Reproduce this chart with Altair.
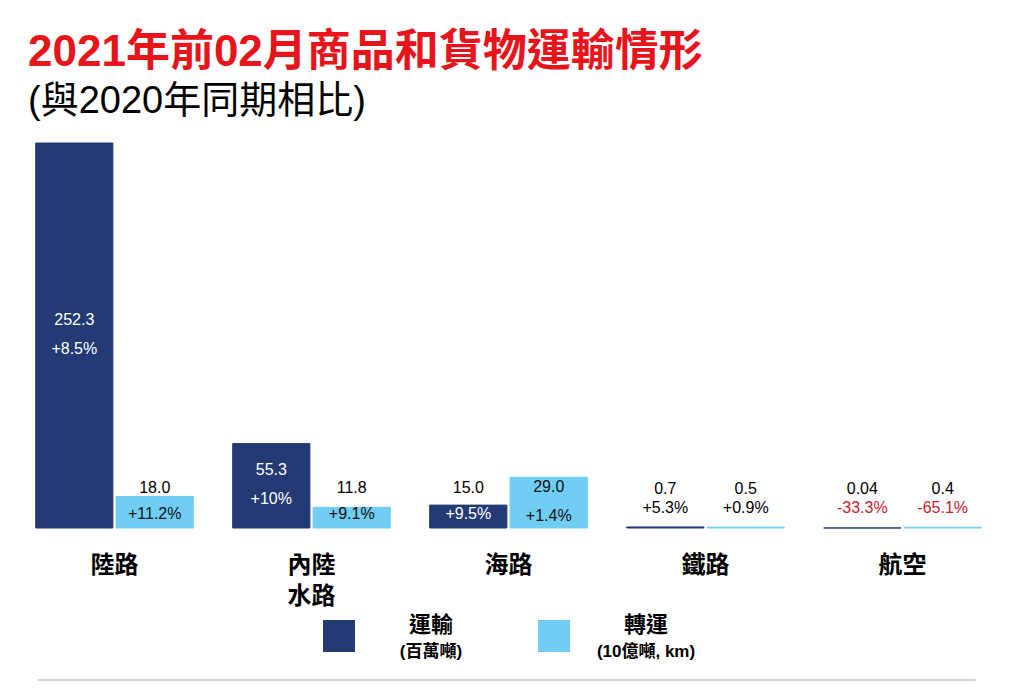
import altair as alt
import pandas as pd

# ---- data ----
categories = ["陸路", "內陸水路", "海路", "鐵路", "航空"]
series_names = ["運輸", "轉運"]
series_units = ["(百萬噸)", "(10億噸, km)"]

transport_values = [252.3, 55.3, 15.0, 0.7, 0.04]
transport_labels = ["252.3", "55.3", "15.0", "0.7", "0.04"]
transport_change = ["+8.5%", "+10%", "+9.5%", "+5.3%", "-33.3%"]

transfer_values = [18.0, 11.8, 29.0, 0.5, 0.4]
transfer_labels = ["18.0", "11.8", "29.0", "0.5", "0.4"]
transfer_change = ["+11.2%", "+9.1%", "+1.4%", "+0.9%", "-65.1%"]

# ---- styling ----
NAVY = "#233a75"
SKY = "#70cdf3"
RED = "#c8202b"
TITLE_RED = "#e8141b"
NUM_FONT = "Liberation Sans, Arial, Noto Sans CJK TC, sans-serif"
CJK_FONT = "Liberation Sans, Noto Sans CJK TC, sans-serif"
TITLE_FONT = "Liberation Sans Narrow, Liberation Sans, Noto Sans CJK TC, sans-serif"
W, H = 985, 385

xscale = alt.Scale(domain=categories, paddingInner=0.2, paddingOuter=0.1)
xoff_scale = alt.Scale(domain=series_names, paddingInner=0.04)

x_axis = alt.Axis(
    title=None, domain=False, ticks=False, labelAngle=0,
    labelFontSize=24, labelFontWeight="bold", labelColor="black",
    labelFont=CJK_FONT, labelPadding=25, labelLineHeight=31,
    labelBaseline="top",
    labelExpr="datum.label == '內陸水路' ? ['內陸', '水路'] : datum.label",
)


def series_layer(name, values, labels, changes, color, ymax, inside_text):
    df = pd.DataFrame({"cat": categories, "s": name, "v": values,
                       "lab": labels, "chg": changes})
    base = alt.Chart(df).transform_calculate(
        px=f"datum.v / {ymax} * {H}",
        mid="datum.v / 2",
        neg="indexof(datum.chg, '-') == 0",
    ).transform_calculate(
        kind="datum.px > 45 ? 'mid' : (datum.px > 10 ? 'small' : 'tiny')"
    )
    yscale = alt.Scale(domain=[0, ymax])
    x = alt.X("cat:N", sort=categories, scale=xscale, axis=x_axis)
    xo = alt.XOffset("s:N", scale=xoff_scale)
    txt = dict(font=NUM_FONT, fontSize=16)

    bars = base.mark_bar(color=color, stroke=color, strokeWidth=1).encode(
        x=x, xOffset=xo, y=alt.Y("v:Q", scale=yscale, axis=None))

    mid = base.transform_filter("datum.kind == 'mid'")
    mid_val = mid.mark_text(dy=-16, color=inside_text, **txt).encode(
        x=x, xOffset=xo, y=alt.Y("mid:Q", scale=yscale, axis=None), text="lab:N")
    mid_chg = mid.mark_text(dy=13, color=inside_text, **txt).encode(
        x=x, xOffset=xo, y=alt.Y("mid:Q", scale=yscale, axis=None), text="chg:N")

    small = base.transform_filter("datum.kind == 'small'")
    small_val = small.mark_text(dy=-40, color="black", **txt).encode(
        x=x, xOffset=xo, y=alt.Y(datum=0, scale=yscale, axis=None), text="lab:N")
    small_chg = small.mark_text(dy=-14, color=inside_text, **txt).encode(
        x=x, xOffset=xo, y=alt.Y(datum=0, scale=yscale, axis=None), text="chg:N")

    tiny = base.transform_filter("datum.kind == 'tiny'")
    tiny_val = tiny.mark_text(dy=-39, color="black", **txt).encode(
        x=x, xOffset=xo, y=alt.Y(datum=0, scale=yscale, axis=None), text="lab:N")
    tiny_chg = tiny.mark_text(dy=-20, **txt).encode(
        x=x, xOffset=xo, y=alt.Y(datum=0, scale=yscale, axis=None), text="chg:N",
        color=alt.condition("datum.neg", alt.value(RED), alt.value("black")))

    return alt.layer(bars, mid_val, mid_chg, small_val, small_chg, tiny_val, tiny_chg)


layer_a = series_layer(series_names[0], transport_values, transport_labels,
                       transport_change, NAVY, 252.3, "white")
layer_b = series_layer(series_names[1], transfer_values, transfer_labels,
                       transfer_change, SKY, 220, "#111111")

main = alt.layer(layer_a, layer_b).resolve_scale(y="independent").properties(
    width=W, height=H)

# ---- custom legend ----
LW = 430
leg_df = pd.DataFrame({"s": series_names, "u": series_units, "c": [NAVY, SKY]})
lx = alt.X("s:N", sort=series_names,
           scale=alt.Scale(type="point", domain=series_names, padding=0.5),
           axis=None)
leg_base = alt.Chart(leg_df)
sq = leg_base.mark_square(size=1024, opacity=1, xOffset=-62).encode(
    x=lx, y=alt.value(24), color=alt.Color("c:N", scale=None))
nm = leg_base.mark_text(fontSize=22, fontWeight="bold", font=CJK_FONT, dx=30,
                        color="black").encode(x=lx, y=alt.value(13), text="s:N")
un = leg_base.mark_text(fontSize=17, fontWeight="bold", font=CJK_FONT, dx=30,
                        color="black").encode(x=lx, y=alt.value(40), text="u:N")
line = alt.Chart(pd.DataFrame({"s": [series_names[0]]})).mark_rule(
    color="#d4d4d4", strokeWidth=2).encode(
    x=alt.value(-256), x2=alt.value(682), y=alt.value(68))
legend = alt.layer(sq, nm, un, line).properties(width=LW, height=60)

chart = alt.vconcat(main, legend, spacing=84, center=True, bounds="flush").properties(
    title=alt.TitleParams(
        text="2021年前02月商品和貨物運輸情形",
        subtitle="(與2020年同期相比)",
        anchor="start", dx=12,
        font=TITLE_FONT, fontSize=44, fontWeight="bold", color=TITLE_RED,
        subtitleFont=TITLE_FONT, subtitleFontSize=38, subtitleColor="black",
        subtitleFontWeight="normal", subtitlePadding=8, offset=22,
    ),
    padding={"left": 8, "top": 22, "right": 0, "bottom": 0},
).configure_view(stroke=None)

chart.save("out.html", embed_options={"renderer": "svg", "actions": False})
